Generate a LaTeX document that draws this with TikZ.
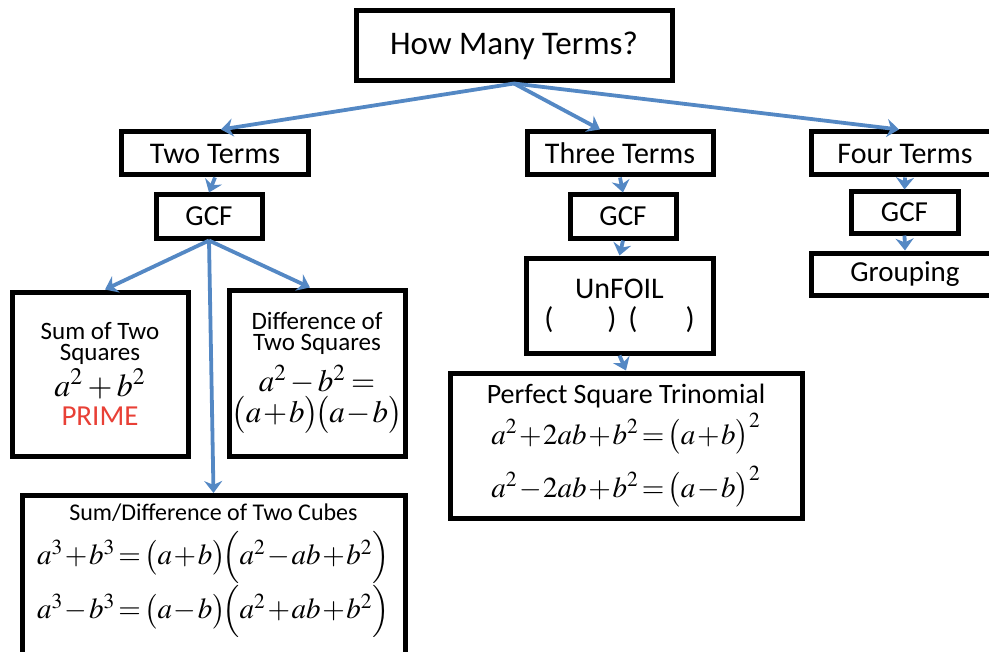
\documentclass[tikz,border=0pt]{standalone}
\usepackage{amsmath}
\usepackage[no-math]{fontspec}
\setmainfont{Carlito}
\usepackage{mathptmx}
\setmainfont{Carlito}
\usetikzlibrary{positioning, arrows.meta, calc}

\definecolor{arrowblue}{RGB}{84,136,196}
\definecolor{primered}{RGB}{232,64,54}

\begin{document}
\begin{tikzpicture}[x=0.5pt, y=-0.5pt,
    box/.style={draw, line width=2.5pt, inner sep=0pt, align=center},
    link/.style={arrowblue, line width=1.9pt, -{Stealth[length=6pt, width=9pt]}}]
  \useasboundingbox (0,0) rectangle (989,652);
  \clip (0,0) rectangle (989,652);
  % Top question
  \node[box, minimum width=158pt, minimum height=35pt, font=\fontsize{16.5}{18}\selectfont] (top) at (514,46) {How Many Terms?};
  % Number of terms
  \node[box, minimum width=93.5pt, minimum height=21.5pt, font=\fontsize{15}{16}\selectfont] (two) at (215,153.5) {Two Terms};
  \node[box, minimum width=93pt, minimum height=21.5pt, font=\fontsize{15}{16}\selectfont] (three) at (620,153.5) {Three Terms};
  \node[box, minimum width=94pt, minimum height=21.5pt, font=\fontsize{15}{16}\selectfont] (four) at (905,153.5) {Four Terms};
  % GCF step
  \node[box, minimum width=53pt, minimum height=21.5pt, font=\fontsize{14.5}{16}\selectfont] (gcfA) at (209,216.5) {GCF};
  \node[box, minimum width=53pt, minimum height=21.5pt, font=\fontsize{14.5}{16}\selectfont] (gcfB) at (623,216.5) {GCF};
  \node[box, minimum width=53.5pt, minimum height=20.5pt, font=\fontsize{14.5}{16}\selectfont] (gcfC) at (904.5,212.5) {GCF};
  \node[box, minimum width=94pt, minimum height=21pt, font=\fontsize{14.5}{16}\selectfont] (group) at (905,274) {Grouping};
  % Two terms branch
  \node[box, minimum width=88pt, minimum height=82pt, font=\fontsize{12.5}{10.5}\selectfont] (sum2) at (100,374)
    {Sum of Two\\Squares\\[1pt]
     {\fontsize{16}{15}\selectfont$a^2+b^2$}\\[3pt]
     {\fontsize{14.5}{15}\selectfont\color{primered}PRIME}};
  \node[box, minimum width=88pt, minimum height=83pt, font=\fontsize{12.5}{10.5}\selectfont] (diff2) at (317,373)
    {Difference of\\Two Squares\\[4pt]
     {\fontsize{15.5}{15}\selectfont\thickmuskip=3mu\medmuskip=2mu$a^2-b^2=$}\\[0pt]
     {\fontsize{15.5}{15}\selectfont\medmuskip=1mu$\bigl(a+b\bigr)\!\bigl(a-b\bigr)$}};
  \node[box, anchor=north, minimum width=191.5pt, minimum height=86pt] (cubes) at (213.5,493)
    {\parbox[t][82pt][t]{185pt}{\centering\vspace{2pt}
     {\fontsize{12}{12}\selectfont Sum/Difference of Two Cubes}\\[4pt]
     {\fontsize{14.5}{14}\selectfont\thickmuskip=2mu\medmuskip=1mu$a^3+b^3=\bigl(a+b\bigr)\!\Bigl(a^2-ab+b^2\Bigr)$}\\[0pt]
     {\fontsize{14.5}{14}\selectfont\thickmuskip=2mu\medmuskip=1mu$a^3-b^3=\bigl(a-b\bigr)\!\Bigl(a^2+ab+b^2\Bigr)$}}};
  % Three terms branch
  \node[box, minimum width=93.5pt, minimum height=47.5pt, font=\fontsize{15}{15}\selectfont] (unfoil) at (619.5,305.5)
    {UnFOIL\\(\hspace{27pt})\hspace{6pt}(\hspace{24pt})};
  \node[box, minimum width=176pt, minimum height=72.5pt] (pst) at (626,445.5)
    {{\fontsize{14}{14}\selectfont Perfect Square Trinomial}\\[2pt]
     {\fontsize{14.5}{14}\selectfont\thickmuskip=2mu\medmuskip=1mu$a^2+2ab+b^2=\bigl(a+b\bigr)^2$}\\[5pt]
     {\fontsize{14.5}{14}\selectfont\thickmuskip=2mu\medmuskip=1mu$a^2-2ab+b^2=\bigl(a-b\bigr)^2$}};
  % Arrows
  \draw[link] (top.south) -- ($(two.north)+(6,0)$);
  \draw[link] (top.south) -- ($(three.north)+(-20,0)$);
  \draw[link] (top.south) -- ($(four.north)+(-6,0)$);
  \draw[link] (two.south) -- (gcfA.north);
  \draw[link] (three.south) -- (gcfB.north);
  \draw[link] (four.south) -- (gcfC.north);
  \draw[link] (gcfA.south) -- ($(sum2.north)+(5,0)$);
  \draw[link] (gcfA.south) -- ($(diff2.north)+(-7,0)$);
  \draw[link] (gcfA.south) -- (cubes.north);
  \draw[link] (gcfB.south) -- (unfoil.north);
  \draw[link] (unfoil.south) -- (pst.north);
  \draw[link] (gcfC.south) -- (group.north);
\end{tikzpicture}
\end{document}
